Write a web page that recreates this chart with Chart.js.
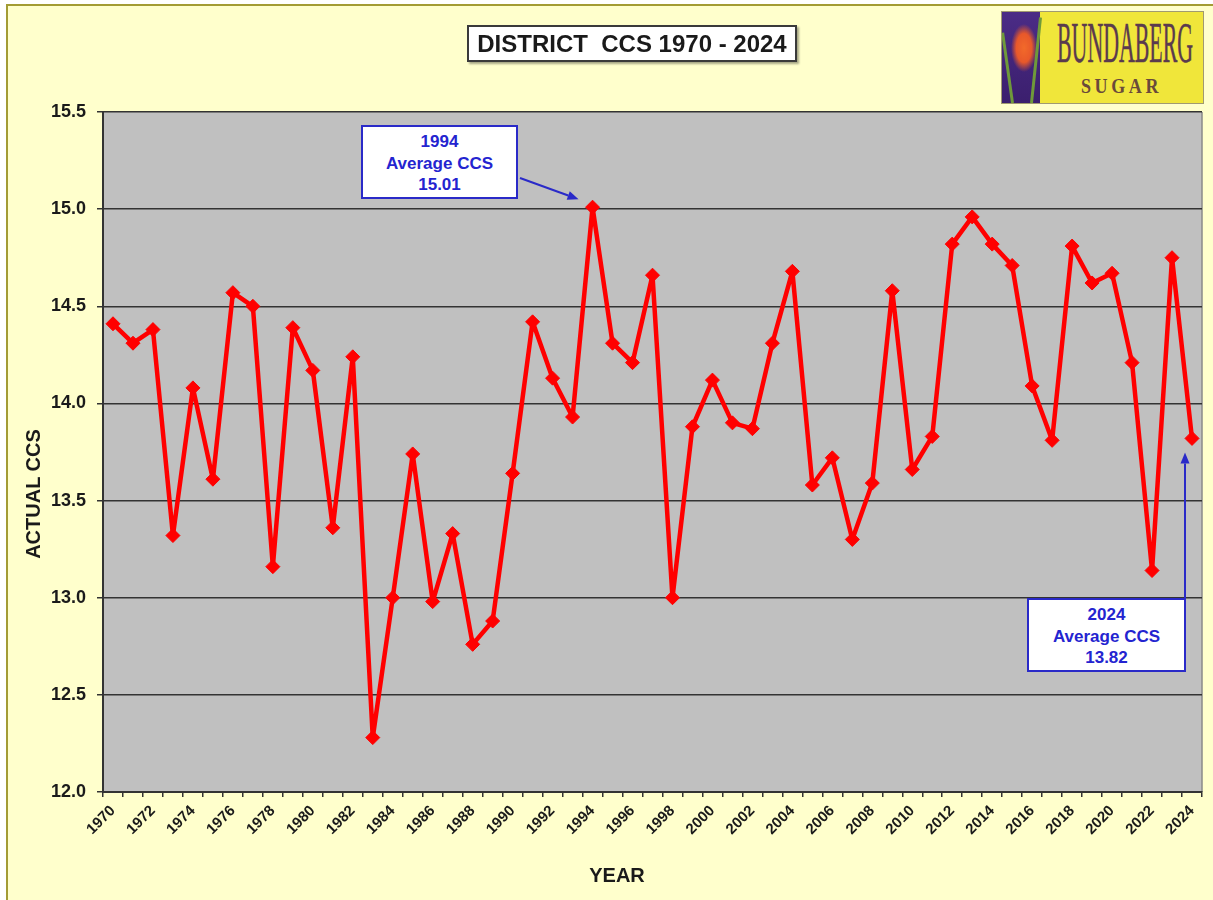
<!DOCTYPE html>
<html>
<head>
<meta charset="utf-8">
<script src="https://cdn.jsdelivr.net/npm/chart.js@4.4.0/dist/chart.umd.min.js"></script>
<style>
  body { margin: 0; background: #fff; }
  #wrap { position: relative; width: 1213px; height: 900px; overflow: hidden; }
  #frame { position: absolute; left: 6px; top: 4px; width: 1240px; height: 930px; background: #FFFFCC;
           border-left: 2px solid #a39c34; border-top: 2px solid #a39c34; }
  canvas { position: absolute; left: 0; top: 0; }
  .title { position: absolute; left: 467px; top: 25px; width: 330px; height: 37px; box-sizing: border-box;
           background: #fff; border: 2px solid #3a3a3a; box-shadow: 2px 2px 2px rgba(0,0,0,.35);
           font: bold 24px "Liberation Sans", Arial, sans-serif; color: #1a1a1a; text-align: center;
           line-height: 33px; white-space: pre; }
  .note { position: absolute; box-sizing: border-box; background: #fff; border: 2px solid #2a2ac8;
          color: #2424d0; font: bold 17px "Liberation Sans", Arial, sans-serif; text-align: center;
          line-height: 21.5px; padding-top: 4px; }
  .axis-title { position: absolute; font: bold 20px "Liberation Sans", Arial, sans-serif; color: #1a1a1a;
                text-align: center; line-height: 24px; white-space: nowrap; }
  #logo { position: absolute; left: 1001px; top: 11px; width: 201px; height: 91px; border: 1px solid #a09a70;
          background: #F0E63A; overflow: hidden; }
  #logo .art { position: absolute; left: 0; top: 0; width: 38px; height: 91px;
               background: radial-gradient(ellipse 13px 24px at 22px 36px, #f26a2a 0, #e8582a 60%, rgba(232,88,42,0) 100%),
                           linear-gradient(#4b2c86, #3b1f6e); }
  #logo .stalk { position: absolute; width: 3px; background: #6f9a3a; transform-origin: bottom center; }
  #logo .b1 { position: absolute; left: 55px; top: 2px; font: 58px "Liberation Serif", "DejaVu Serif", serif;
              line-height: 1; color: #5a3a4e; transform: scaleX(0.377); transform-origin: left top; white-space: nowrap;
              -webkit-text-stroke: 0.6px #5a3a4e; }
  #logo .b2 { position: absolute; left: 79px; top: 64px; font: bold 20px "Liberation Serif", "DejaVu Serif", serif;
              line-height: 1; letter-spacing: 4px; color: #6a4a3a; transform: scaleX(0.9); transform-origin: left top; white-space: nowrap; }
</style>
</head>
<body>
<div id="wrap">
  <div id="frame"></div>
  <canvas id="chart" width="1213" height="900"></canvas>
  <div class="title">DISTRICT  CCS 1970 - 2024</div>
  <div id="logo">
    <div class="art"></div>
    <div class="stalk" style="left:9px;top:20px;height:71px;transform:rotate(-8deg)"></div>
    <div class="stalk" style="left:28px;top:5px;height:86px;transform:rotate(6deg)"></div>
    <div class="b1">BUNDABERG</div>
    <div class="b2">SUGAR</div>
  </div>
  <div class="note" style="left:361px;top:125px;width:157px;height:74px;">1994<br>Average CCS<br>15.01</div>
  <div class="note" style="left:1027px;top:598px;width:159px;height:74px;">2024<br>Average CCS<br>13.82</div>
  <div class="axis-title" style="left:-67px;top:482px;width:200px;transform:rotate(-90deg);">ACTUAL CCS</div>
  <div class="axis-title" style="left:567px;top:863px;width:100px;">YEAR</div>
</div>
<script>
const years = [
  "1970", "1971", "1972", "1973", "1974", "1975", "1976", "1977", "1978", "1979",
  "1980", "1981", "1982", "1983", "1984", "1985", "1986", "1987", "1988", "1989",
  "1990", "1991", "1992", "1993", "1994", "1995", "1996", "1997", "1998", "1999",
  "2000", "2001", "2002", "2003", "2004", "2005", "2006", "2007", "2008", "2009",
  "2010", "2011", "2012", "2013", "2014", "2015", "2016", "2017", "2018", "2019",
  "2020", "2021", "2022", "2023", "2024"
];

const ccs = [
  14.41, 14.31, 14.38, 13.32, 14.08, 13.61, 14.57, 14.50, 13.16, 14.39,
  14.17, 13.36, 14.24, 12.28, 13.00, 13.74, 12.98, 13.33, 12.76, 12.88,
  13.64, 14.42, 14.13, 13.93, 15.01, 14.31, 14.21, 14.66, 13.00, 13.88,
  14.12, 13.90, 13.87, 14.31, 14.68, 13.58, 13.72, 13.30, 13.59, 14.58,
  13.66, 13.83, 14.82, 14.96, 14.82, 14.71, 14.09, 13.81, 14.81, 14.62,
  14.67, 14.21, 13.14, 14.75, 13.82
];

const yTickValues = [12.0, 12.5, 13.0, 13.5, 14.0, 14.5, 15.0, 15.5];

// arrows from the note boxes to the highlighted years
const callouts = [
  { year: "1994", from: [520, 178], dx: -14, dy: -8 },
  { year: "2024", from: [1185, 598], dx: -7, dy: 14 }
];

const font = "'Liberation Sans', Arial, sans-serif";
const axisColor = "#333333";

const plotBackground = {
  id: "plotBackground",
  beforeDraw(chart) {
    const { ctx, chartArea: a } = chart;
    ctx.save();
    ctx.fillStyle = "#C0C0C0";
    ctx.fillRect(a.left, a.top, a.right - a.left, a.bottom - a.top);
    ctx.strokeStyle = "#8a8a8a";
    ctx.lineWidth = 1.5;
    ctx.beginPath();
    ctx.moveTo(a.right, a.top);
    ctx.lineTo(a.right, a.bottom);
    ctx.stroke();
    ctx.restore();
  }
};

const calloutArrows = {
  id: "calloutArrows",
  afterDatasetsDraw(chart) {
    const { ctx } = chart;
    const pts = chart.getDatasetMeta(0).data;
    ctx.save();
    ctx.strokeStyle = "#2a2ac8";
    ctx.fillStyle = "#2a2ac8";
    ctx.lineWidth = 2;
    callouts.forEach((c) => {
      const p = pts[years.indexOf(c.year)];
      const tx = p.x + c.dx, ty = p.y + c.dy;
      const [fx, fy] = c.from;
      const ang = Math.atan2(ty - fy, tx - fx);
      const hl = 11, hw = 4.5;
      const bx = tx - hl * Math.cos(ang), by = ty - hl * Math.sin(ang);
      ctx.beginPath();
      ctx.moveTo(fx, fy);
      ctx.lineTo(bx, by);
      ctx.stroke();
      ctx.beginPath();
      ctx.moveTo(tx, ty);
      ctx.lineTo(bx + hw * Math.sin(ang), by - hw * Math.cos(ang));
      ctx.lineTo(bx - hw * Math.sin(ang), by + hw * Math.cos(ang));
      ctx.closePath();
      ctx.fill();
    });
    ctx.restore();
  }
};

const ctx = document.getElementById("chart").getContext("2d");
const myChart = new Chart(ctx, {
  type: "line",
  data: {
    labels: years,
    datasets: [
      {
        label: "District CCS",
        data: ccs,
        borderColor: "#FF0000",
        backgroundColor: "#FF0000",
        borderWidth: 4.5,
        borderJoinStyle: "round",
        borderCapStyle: "round",
        pointStyle: "rectRot",
        pointRadius: 7,
        pointBackgroundColor: "#FF0000",
        pointBorderColor: "#FF0000",
        pointBorderWidth: 1,
        tension: 0,
        clip: false,
      },
    ],
  },
  options: {
    responsive: false,
    animation: false,
    layout: { padding: { top: 112, right: 11, left: 0, bottom: 0 } },
    plugins: {
      legend: { display: false },
      tooltip: { enabled: false },
    },
    scales: {
      x: {
        type: "category",
        offset: true,
        grid: { offset: true, drawOnChartArea: false, drawTicks: true, tickLength: 5, color: axisColor, lineWidth: 1.5 },
        border: { display: true, color: axisColor, width: 2 },
        ticks: {
          autoSkip: false,
          minRotation: 45,
          maxRotation: 45,
          padding: 5,
          color: "#1a1a1a",
          font: { family: font, size: 15, weight: "bold" },
          callback: (v, i) => (i % 2 === 0 ? years[i] : ""),
        },
        afterFit: (s) => { s.height = 108; },
      },
      y: {
        min: 12,
        max: 15.5,
        afterBuildTicks: (s) => { s.ticks = yTickValues.map((v) => ({ value: v })); },
        grid: { color: axisColor, lineWidth: 1.5, tickLength: 6 },
        border: { display: true, color: axisColor, width: 2 },
        ticks: {
          padding: 11,
          color: "#1a1a1a",
          font: { family: font, size: 18, weight: "bold" },
          callback: (v) => Number(v).toFixed(1),
        },
        afterFit: (s) => { s.width = 103; },
      },
    },
  },
  plugins: [plotBackground, calloutArrows],
});
</script>
</body>
</html>
